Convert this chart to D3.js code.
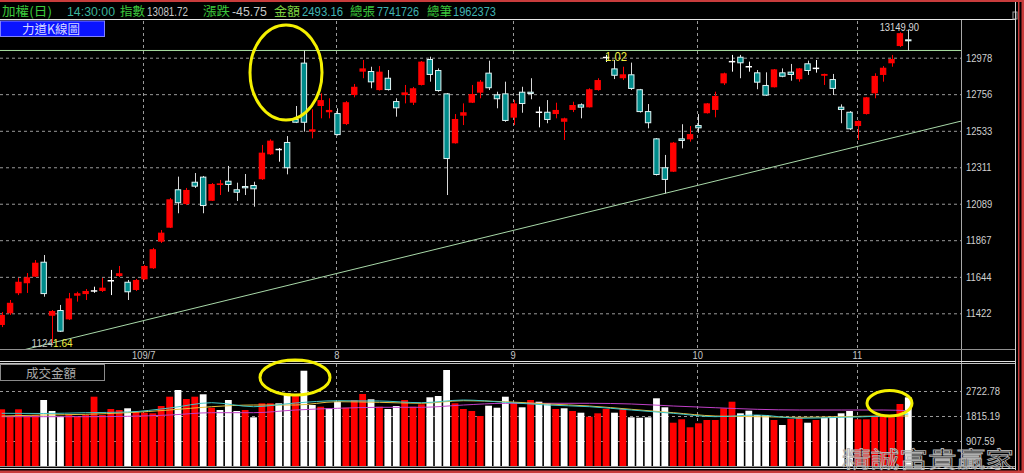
<!DOCTYPE html>
<html><head><meta charset="utf-8">
<script src="https://cdn.jsdelivr.net/npm/d3@7"></script>
<style>body{margin:0;background:#000;overflow:hidden}svg{display:block}</style>
</head><body>
<svg id="c" width="1024" height="473"></svg>
<script>
// ---------- DATA ----------
const opens  = [11351,11422,11544,11605,11645,11736,11407,11442,11385,11529,11539,11558,11558,11620,11649,11614,11564,11629,11696,11858,
11943,12177,12087,12223,12254,12107,12203,12229,12177,12197,12203,12238,12390,12419,12465,12605,12948,12528,12684,12646,
12641,12574,12751,12893,12897,12781,12856,12714,12751,12704,12812,12970,12903,12761,12457,12625,12704,12765,12887,12755,
12761,12613,12771,12771,12646,12649,12635,12588,12660,12694,12676,12781,12979,12913,12853,12877,12786,12653,12487,12311,
12284,12487,12481,12568,12640,12660,12822,12954,12984,12923,12889,12812,12798,12889,12893,12847,12944,12913,12868,12848,
12680,12649,12562,12635,12761,12873,12944,13049,13090];
const highs  = [11430,11503,11637,11667,11746,11777,11442,11473,11546,11553,11570,11584,11637,11686,11710,11625,11631,11716,11820,11929,
12124,12254,12185,12276,12258,12215,12234,12319,12217,12270,12223,12447,12481,12428,12501,12684,13022,12664,12761,12731,
12670,12714,12818,12964,12923,12927,12903,12731,12812,12800,12958,12984,12913,12763,12635,12700,12812,12842,12960,12771,
12832,12720,12801,12853,12680,12720,12704,12613,12710,12700,12792,12853,12995,12964,12923,12948,12788,12696,12489,12386,
12465,12573,12562,12635,12702,12771,12887,12995,12995,12954,12903,12889,12909,12913,12940,12915,12960,12964,12881,12879,
12694,12653,12596,12739,12883,12927,12995,13133,13149.90];
const lows   = [11338,11412,11533,11546,11643,11523,11241.64,11308,11381,11493,11503,11547,11552,11533,11643,11503,11558,11625,11692,11850,
11941,12031,12081,12185,12031,12106,12142,12162,12106,12142,12071,12234,12386,12345,12268,12580,12528,12487,12609,12609,
12504,12568,12737,12853,12792,12778,12778,12619,12700,12690,12809,12832,12771,12142,12455,12568,12702,12731,12781,12670,
12588,12568,12643,12725,12554,12579,12609,12477,12647,12609,12675,12777,12952,12848,12842,12781,12644,12548,12261,12152,
12282,12426,12467,12521,12638,12615,12812,12893,12853,12893,12786,12745,12797,12859,12838,12832,12873,12887,12812,12751,
12579,12538,12477,12632,12731,12832,12923,13043,13021];
const closes = [11412,11486,11614,11641,11730,11539,11436,11310,11513,11544,11558,11558,11578,11620,11666,11550,11625,11710,11812,11913,
12116,12092,12173,12193,12075,12209,12213,12203,12156,12183,12177,12400,12473,12419,12305,12582,12582,12542,12720,12660,
12507,12707,12801,12913,12828,12893,12781,12670,12767,12792,12954,12873,12775,12361,12605,12646,12757,12832,12792,12725,
12593,12700,12696,12757,12646,12599,12660,12609,12690,12674,12786,12842,12979,12868,12877,12788,12647,12579,12264,12234,
12461,12471,12513,12548,12700,12745,12883,12954,12944,12923,12826,12747,12907,12862,12873,12913,12897,12913,12879,12788,
12660,12542,12593,12737,12867,12917,12970,13127.47,13081.72];

const volumes = [2058,1815,2058,1815,1851,2396,1997,1790,1851,1790,1851,2516,1851,2069,2033,2095,1971,1935,1913,2178,
2516,2759,2432,2516,2603,2116,2033,2396,1997,2033,1768,2276,2276,2276,2639,2577,3459,2214,2153,2095,
2334,2116,2396,2614,2421,2153,2069,2178,2396,2153,2240,2494,2541,3485,2276,2069,1997,1815,2189,2116,
2516,2298,2131,2396,2334,2276,2069,2095,1997,1935,1790,1913,2069,1935,2069,1768,1753,1768,2458,2131,
1572,1695,1405,1550,1670,1670,2095,2334,1913,2007,1851,1851,1670,1488,1706,1753,1572,1670,1753,1790,
1913,1997,1695,1695,1790,1851,1768,2251,2493.16];
// 1 = up day (red bar), 0 = down day (white bar)
const volDir = [1,1,1,1,1,0,0,0,1,1,1,1,1,1,1,0,1,1,1,1,
1,0,1,1,0,1,0,0,0,1,0,1,1,0,0,1,0,0,1,0,
0,1,1,1,0,1,0,0,1,1,1,0,0,0,1,1,1,1,0,0,
0,1,0,1,0,0,1,0,1,0,1,1,1,0,1,0,0,0,0,0,
1,1,1,1,1,1,1,1,0,0,0,0,1,0,1,1,0,1,0,0,
0,0,1,1,1,1,1,1,0];

// volume moving-average lines at these bars
const maIdx    = [0,5,10,15,20,25,30,35,40,45,50,55,60,65,70,75,80,85,90,95,100,105,108];
const maCyan   = [1913,1906,1935,1960,2105,2298,2153,2287,2370,2360,2298,2396,2312,2214,2153,2033,1913,1790,1851,1732,1768,1815,1888];
const maYellow = [1815,1851,1877,1935,2033,2153,2214,2214,2334,2312,2276,2370,2334,2251,2178,2058,1935,1815,1790,1768,1790,1815,1815];
const maPurple = [1790,1790,1790,1804,1851,1935,1935,2033,2095,2131,2131,2214,2276,2276,2276,2251,2178,2116,2058,2033,2033,2033,2007];

const priceTicks = [11422,11644,11867,12089,12311,12533,12756,12978];
const volTicks   = [907.59,1815.19,2722.78];
const monthIdx   = [17,40,61,83,102];
const monthLabels= ["109/7","8","9","10","11"];

// drawn objects: trendline through two lows, horizontal line at a high
const trendIdx = [6,79];
const trendVal = [11241.64,12152];
const resistVal = 13022;

const header = [
 ["加權(日)","#3cc83c"],["14:30:00","#3cb49c"],["指數","#3cc83c"],["13081.72","#c8c8c8"],
 ["漲跌","#3cc83c"],["-45.75","#c8c8c8"],["金額","#7cd040"],["2493.16","#40b4b4"],
 ["總張","#3cc83c"],["7741726","#40b4b4"],["總筆","#3cc83c"],["1962373","#40b4b4"]];

// ---------- LAYOUT ----------
const svg = d3.select("#c");
const PL=0, PR=961, PT=20, PB=349;   // price panel
const VT=364, VB=466;                // volume panel
const n = opens.length;
const x  = d3.scaleLinear().domain([0,n-1]).range([1.7,908.3]);
const y  = d3.scaleLinear().domain([11422,12978]).range([313.3,57.7]);
const yv = d3.scaleLinear().domain([0,2722.78]).range([VB,391]);
const bw = 6.4;
const numFont = "'Liberation Sans',Arial,sans-serif";
const cjk = "'Noto Sans CJK TC','Noto Sans CJK SC',sans-serif";
function narrow(sel, k){ sel.each(function(){ const L=this.getComputedTextLength();
  d3.select(this).attr("textLength",L*k).attr("lengthAdjust","spacingAndGlyphs"); }); }

svg.append("rect").attr("width",1024).attr("height",473).attr("fill","#000");

// header
const hx = [2,67,120,147,203,232,274,302,350,377,427,453];
const hw = [50,48,25,41,27,35,26,41,25,42,25,43];
header.forEach((h,k)=>{
  const isNum = /^[-0-9.:]+$/.test(h[0]);
  svg.append("text").attr("x",hx[k]).attr("y",16)
    .attr("fill",h[1]).attr("font-size", isNum?13:12.5)
    .attr("font-family", isNum? numFont : cjk).text(h[0])
    .attr("textLength",hw[k]).attr("lengthAdjust","spacingAndGlyphs");
});

// frame lines
svg.append("rect").attr("x",0).attr("y",0).attr("width",1024).attr("height",2).attr("fill","#c83c3c");
svg.append("line").attr("x1",0).attr("x2",1016).attr("y1",19.5).attr("y2",19.5).attr("stroke","#e8e8e8");
svg.append("rect").attr("x",1013).attr("y",12).attr("width",4).attr("height",7).attr("fill","none").attr("stroke","#a0a0a0");
svg.append("line").attr("x1",PR+0.5).attr("x2",PR+0.5).attr("y1",PT).attr("y2",VB).attr("stroke","#a8a8a8");
svg.append("line").attr("x1",0).attr("x2",1016).attr("y1",PB+0.5).attr("y2",PB+0.5).attr("stroke","#909090");
svg.append("line").attr("x1",0).attr("x2",1016).attr("y1",361.5).attr("y2",361.5).attr("stroke","#e0e0e0");
svg.append("line").attr("x1",0).attr("x2",1016).attr("y1",363.5).attr("y2",363.5).attr("stroke","#c0c0c0");

// clip for price panel
svg.append("clipPath").attr("id","pc").append("rect").attr("x",PL).attr("y",PT+1).attr("width",PR-PL).attr("height",PB-PT-1);

// price grid (horizontal)
const gH = svg.append("g").call(d3.axisLeft(y).tickValues(priceTicks).tickSize(-(PR-PL)).tickFormat(""));
gH.select(".domain").remove();
gH.selectAll("line").attr("stroke","#9a9a9a").attr("stroke-dasharray","3,3");
// price labels
const gY = svg.append("g").attr("transform",`translate(${PR+4},0)`)
  .call(d3.axisRight(y).tickValues(priceTicks).tickSize(0).tickPadding(1).tickFormat(d3.format("d")));
gY.select(".domain").remove();
gY.selectAll("text").attr("fill","#d0d0d0").attr("font-size",11.5).attr("font-family",numFont).call(narrow,0.82);

// month grid (vertical), both panels
const xm = i => x(i) - 1.2;
[[PT+1,PB],[VT,VB]].forEach(([a,b])=>{
  svg.append("g").selectAll("line").data(monthIdx).join("line")
    .attr("x1",d=>Math.round(xm(d))+0.5).attr("x2",d=>Math.round(xm(d))+0.5)
    .attr("y1",a).attr("y2",b).attr("stroke","#9a9a9a").attr("stroke-dasharray","3,3");
});
// month labels
const gX = svg.append("g").attr("transform",`translate(0,${PB})`)
  .call(d3.axisBottom(d3.scaleLinear().domain(x.domain()).range(x.range().map(v=>v-1.2)))
    .tickValues(monthIdx).tickSize(0).tickPadding(2).tickFormat((d,k)=>monthLabels[k]));
gX.select(".domain").remove();
gX.selectAll("text").attr("fill","#c8c8c8").attr("font-size",11).attr("font-family",numFont).call(narrow,0.85);

// label box
svg.append("rect").attr("x",0.5).attr("y",21).attr("width",104).attr("height",15.5).attr("fill","#0a14ff").attr("stroke","#8080ff");
svg.append("text").attr("x",51).attr("y",33.5).attr("text-anchor","middle").attr("fill","#d8d8ff")
  .attr("font-size",12.5).attr("font-family",cjk).text("力道K線圖");

// drawn lines
const pg = svg.append("g").attr("clip-path","url(#pc)");
const slope = (trendVal[1]-trendVal[0])/(trendIdx[1]-trendIdx[0]);
const tx0 = -5, tx1 = 120;
pg.append("line").attr("x1",x(tx0)).attr("y1",y(trendVal[0]+slope*(tx0-trendIdx[0])))
  .attr("x2",x(tx1)).attr("y2",y(trendVal[0]+slope*(tx1-trendIdx[0])))
  .attr("stroke","#a8d8a8").attr("stroke-width",1);
pg.append("line").attr("x1",PL).attr("x2",PR).attr("y1",y(resistVal)).attr("y2",y(resistVal))
  .attr("stroke","#a8e0a0").attr("stroke-width",1);

// candles
const data = d3.range(n).map(i=>({i,o:opens[i],h:highs[i],l:lows[i],c:closes[i]}));
const cg = pg.append("g").selectAll("g").data(data).join("g");
const kind = d => d.c>d.o ? "up" : (d.c<d.o ? "down" : "flat");
const cxr = d => Math.round(x(d.i))+0.5;
cg.append("line").attr("x1",cxr).attr("x2",cxr).attr("y1",d=>y(d.h)).attr("y2",d=>y(d.l))
  .attr("stroke",d=>kind(d)==="up"?"#ff0000":(kind(d)==="down"?"#d8d8d8":"#ffffff"));
cg.filter(d=>kind(d)==="up").append("rect")
  .attr("x",d=>x(d.i)-bw/2).attr("width",bw)
  .attr("y",d=>y(d.c)).attr("height",d=>Math.max(1.5,y(d.o)-y(d.c))).attr("fill","#ff0000");
cg.filter(d=>kind(d)==="down").append("rect")
  .attr("x",d=>x(d.i)-bw/2+0.5).attr("width",bw-1)
  .attr("y",d=>y(d.o)+0.5).attr("height",d=>Math.max(1,y(d.c)-y(d.o)-1))
  .attr("fill","#008b8b").attr("stroke","#e0f4f4").attr("stroke-width",1);
cg.filter(d=>kind(d)==="flat").append("line")
  .attr("x1",d=>x(d.i)-bw/2).attr("x2",d=>x(d.i)+bw/2).attr("y1",d=>y(d.o)).attr("y2",d=>y(d.o))
  .attr("stroke","#ffffff").attr("stroke-width",1.5);

// high / low labels
const hiI = d3.maxIndex(highs), loI = d3.minIndex(lows);
svg.append("text").attr("x",x(hiI)-9).attr("y",31).attr("text-anchor","middle").attr("fill","#d8d8d8")
  .attr("font-size",11.5).attr("font-family",numFont).text(d3.format(".2f")(highs[hiI])).call(narrow,0.82);
const loTxt = d3.format(".2f")(lows[loI]);
const lt = svg.append("text").attr("x",x(loI)).attr("y",347).attr("text-anchor","middle")
  .attr("font-size",10).attr("font-family",numFont);
lt.append("tspan").attr("fill","#c8c8c8").text(loTxt.slice(0,4));
lt.append("tspan").attr("fill","#f0f040").text(loTxt.slice(4));
svg.append("text").attr("x",x(72)-1).attr("y",61).attr("fill","#f0f040")
  .attr("font-size",12.5).attr("font-family",numFont).text("1.02").call(narrow,0.9);

// volume panel
svg.append("rect").attr("x",0.5).attr("y",364.5).attr("width",104).attr("height",16).attr("fill","none").attr("stroke","#8a8a8a");
svg.append("text").attr("x",51).attr("y",377.5).attr("text-anchor","middle").attr("fill","#a8a8a8")
  .attr("font-size",12.5).attr("font-family",cjk).text("成交金額");
const gVH = svg.append("g").call(d3.axisLeft(yv).tickValues(volTicks).tickSize(-(PR-PL)).tickFormat(""));
gVH.select(".domain").remove();
gVH.selectAll("line").attr("stroke","#9a9a9a").attr("stroke-dasharray","3,3");
const gVY = svg.append("g").attr("transform",`translate(${PR+4},0)`)
  .call(d3.axisRight(yv).tickValues(volTicks).tickSize(0).tickPadding(1).tickFormat(d3.format(".2f")));
gVY.select(".domain").remove();
gVY.selectAll("text").attr("fill","#d0d0d0").attr("font-size",11.5).attr("font-family",numFont).call(narrow,0.82);

svg.append("g").selectAll("rect").data(volumes).join("rect")
  .attr("x",(d,i)=>x(i)-3.4).attr("width",6.8)
  .attr("y",d=>yv(d)).attr("height",d=>VB-yv(d))
  .attr("fill",(d,i)=>volDir[i]?"#ff0000":"#ffffff");

const maLine = d3.line().x(d=>x(d[0])).y(d=>yv(d[1])).curve(d3.curveMonotoneX);
[[maPurple,"#c040c8"],[maYellow,"#e8c040"],[maCyan,"#40c8c8"]].forEach(([arr,col])=>{
  svg.append("path").attr("d",maLine(maIdx.map((k,j)=>[k,arr[j]])))
    .attr("fill","none").attr("stroke",col).attr("stroke-width",1);
});

// bottom / right frame
svg.append("line").attr("x1",0).attr("x2",1016).attr("y1",VB+0.5).attr("y2",VB+0.5).attr("stroke","#909090");
svg.append("line").attr("x1",0).attr("x2",1016).attr("y1",468.5).attr("y2",468.5).attr("stroke","#e0e0e0");
svg.append("rect").attr("x",0).attr("y",470.5).attr("width",1024).attr("height",2.5).attr("fill","#c83c3c");
svg.append("line").attr("x1",1015.5).attr("x2",1015.5).attr("y1",2).attr("y2",470).attr("stroke","#d0d0d0");
svg.append("rect").attr("x",1018).attr("y",0).attr("width",1.5).attr("height",473).attr("fill","#c83c3c");
svg.append("rect").attr("x",1021.5).attr("y",0).attr("width",2.5).attr("height",473).attr("fill","#c83c3c");

// watermark
svg.append("text").attr("x",842).attr("y",467).attr("fill","none").attr("stroke","#b0b0b0").attr("stroke-width",0.8)
  .attr("font-size",22).attr("font-family",cjk).attr("textLength",172).attr("lengthAdjust","spacingAndGlyphs")
  .text("精誠富貴贏家");

// annotation ellipses
const ell = [[286,72.5,36,47.5],[295,377.5,35,17.5],[889.5,403.3,22.5,12.7]];
svg.append("g").selectAll("ellipse").data(ell).join("ellipse")
  .attr("cx",d=>d[0]).attr("cy",d=>d[1]).attr("rx",d=>d[2]).attr("ry",d=>d[3])
  .attr("fill","none").attr("stroke","#f4f000").attr("stroke-width",3);
</script>
</body></html>
